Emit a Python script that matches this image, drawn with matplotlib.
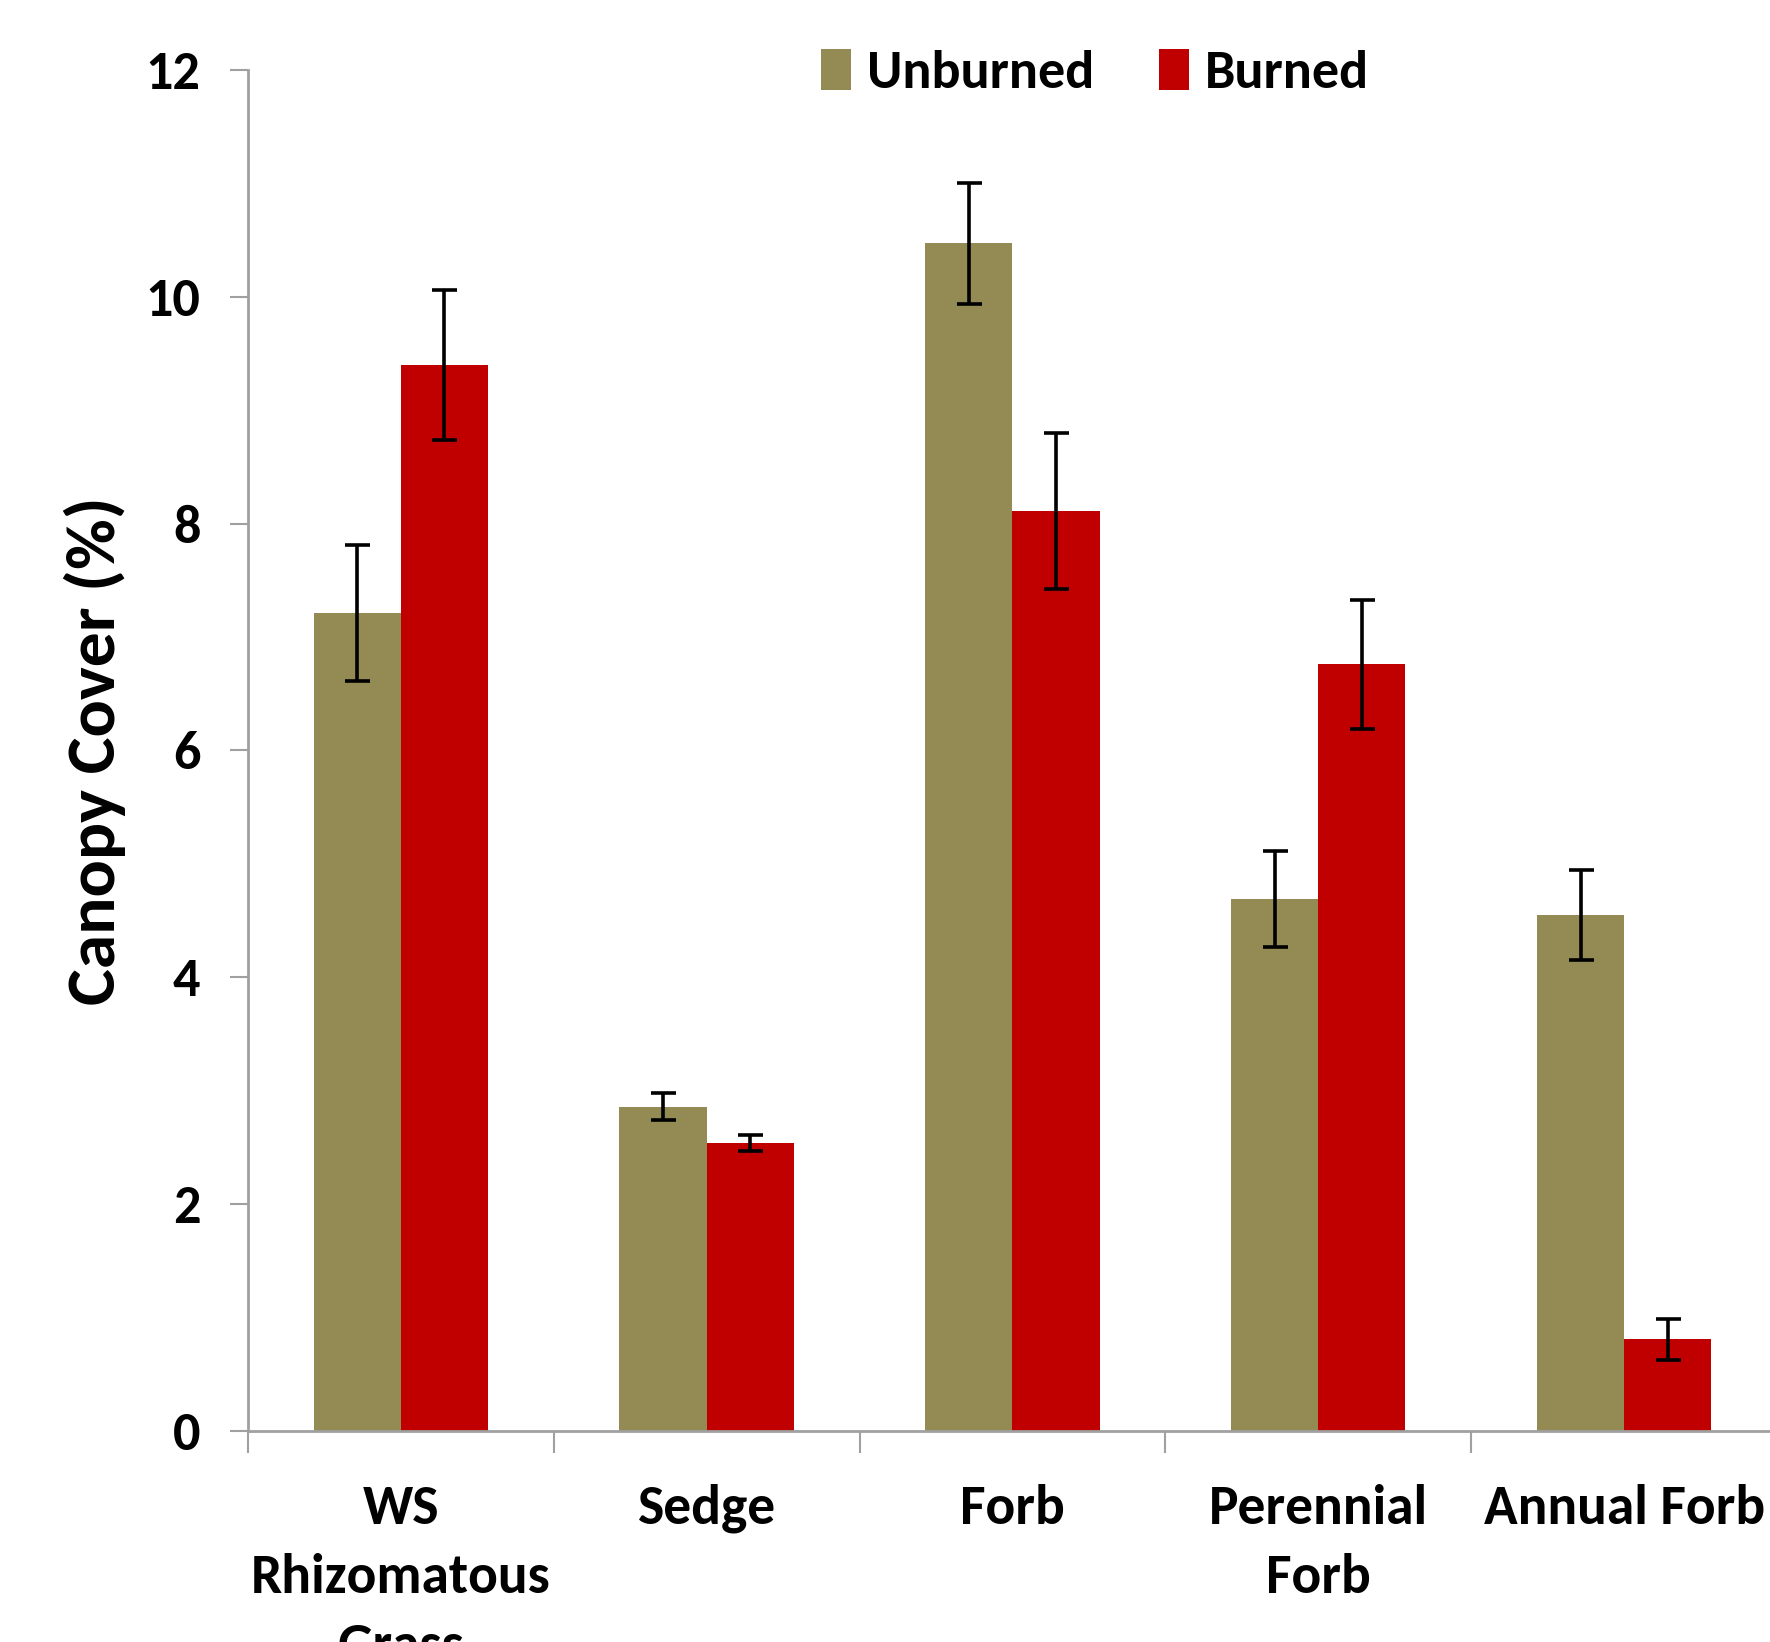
import matplotlib
matplotlib.use("Agg")
import matplotlib.pyplot as plt
import numpy as np
from matplotlib import font_manager

categories = ["WS\nRhizomatous\nGrass", "Sedge", "Forb", "Perennial\nForb", "Annual Forb"]
unburned = [7.21, 2.86, 10.47, 4.69, 4.55]
unburned_err = [0.60, 0.12, 0.53, 0.42, 0.40]
burned = [9.40, 2.54, 8.11, 6.76, 0.81]
burned_err = [0.66, 0.07, 0.69, 0.57, 0.18]
yticks = [0, 2, 4, 6, 8, 10, 12]

avail = {f.name for f in font_manager.fontManager.ttflist}
fam = [f for f in ["Carlito", "Liberation Sans Narrow", "Open Sans", "DejaVu Sans"] if f in avail]
plt.rcParams['font.family'] = fam
plt.rcParams['font.weight'] = 'bold'

fig = plt.figure(figsize=(17.7, 16.42), dpi=100)
ax = fig.add_axes([0.140, 0.1285, 0.864, 0.8289])

x = np.arange(len(categories))
w = 0.285
col_u = "#948A54"
col_b = "#C00000"
ek = dict(ecolor="black", elinewidth=2.6, capsize=9, capthick=2.6)
ax.bar(x - w/2, unburned, w, color=col_u, label="Unburned", yerr=unburned_err, error_kw=ek)
ax.bar(x + w/2, burned, w, color=col_b, label="Burned", yerr=burned_err, error_kw=ek)

ax.set_xlim(-0.5, 4.5)
ax.set_ylim(0, 12)
ax.set_yticks(yticks)
ax.set_yticklabels([str(t) for t in yticks], fontsize=39, fontweight='bold')
ax.set_xticks(x)
ax.set_xticklabels(categories, fontsize=40, fontweight='bold', linespacing=1.5)
ax.set_xticks(np.arange(-0.5, 4.5, 1.0), minor=True)
ax.tick_params(axis='x', which='major', length=0, pad=38)
ax.tick_params(axis='x', which='minor', length=16, width=1.5, color="#A0A0A0", direction='out')
ax.tick_params(axis='y', which='major', length=13, width=1.5, color="#A0A0A0", direction='out', pad=21)

for s in ["top", "right"]:
    ax.spines[s].set_visible(False)
for s in ["left", "bottom"]:
    ax.spines[s].set_color("#A0A0A0")
    ax.spines[s].set_linewidth(2)

ax.set_ylabel("Canopy Cover (%)", fontsize=50, fontweight='bold', labelpad=14)

fig.legend(loc='center', bbox_to_anchor=(1095/1770, 1 - 73/1642), ncol=2, frameon=False,
           handlelength=0.55, handleheight=0.8, handletextpad=0.3, columnspacing=1.2,
           prop={'weight': 'bold', 'size': 39})

fig.savefig("out.png", dpi=100)
